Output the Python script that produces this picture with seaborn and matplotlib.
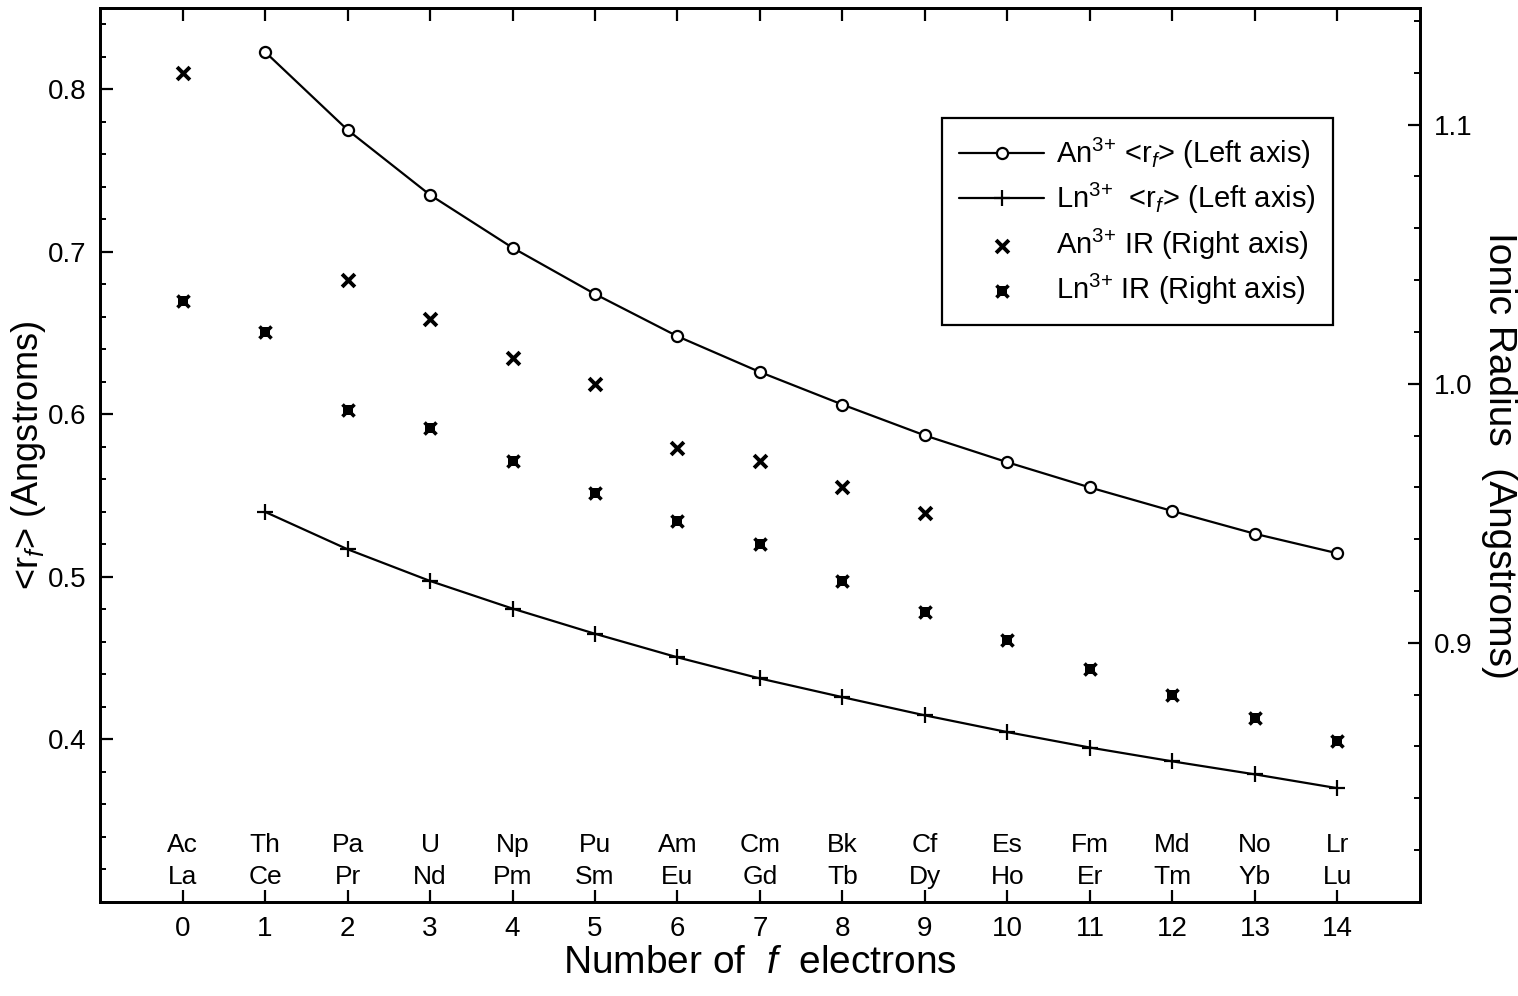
import numpy as np
import pandas as pd
import matplotlib
matplotlib.use("Agg")
import matplotlib.pyplot as plt
import matplotlib.transforms as mtransforms
from matplotlib.ticker import MultipleLocator
from matplotlib.legend_handler import HandlerTuple
import seaborn as sns

# ---- data ----
n_f = list(range(15))
actinides = ["Ac", "Th", "Pa", "U", "Np", "Pu", "Am", "Cm", "Bk", "Cf", "Es", "Fm", "Md", "No", "Lr"]
lanthanides = ["La", "Ce", "Pr", "Nd", "Pm", "Sm", "Eu", "Gd", "Tb", "Dy", "Ho", "Er", "Tm", "Yb", "Lu"]

rf_x = list(range(1, 15))
an_rf = [0.823, 0.775, 0.735, 0.7025, 0.674, 0.648, 0.626, 0.606, 0.587, 0.5705, 0.555, 0.5405, 0.5265, 0.5145]
ln_rf = [0.540, 0.517, 0.4975, 0.4805, 0.465, 0.4505, 0.4375, 0.426, 0.4148, 0.4045, 0.395, 0.3865, 0.3785, 0.370]

an_ir_x = [0, 2, 3, 4, 5, 6, 7, 8, 9]
an_ir = [1.120, 1.040, 1.025, 1.010, 1.000, 0.975, 0.970, 0.960, 0.950]
ln_ir_x = list(range(15))
ln_ir = [1.032, 1.020, 0.990, 0.983, 0.970, 0.958, 0.947, 0.938, 0.924, 0.912, 0.901, 0.890, 0.880, 0.871, 0.862]

labels = ["An$^{3{+}}$ <r$_f$> (Left axis)", "Ln$^{3{+}}$  <r$_f$> (Left axis)",
          "An$^{3{+}}$ IR (Right axis)", "Ln$^{3{+}}$ IR (Right axis)"]

# ---- style ----
sns.set_theme(style="ticks")
plt.rcParams["font.family"] = ["Liberation Sans", "DejaVu Sans"]
plt.rcParams["mathtext.fontset"] = "custom"
plt.rcParams["mathtext.rm"] = "Liberation Sans"
plt.rcParams["mathtext.it"] = "Liberation Sans:italic"
plt.rcParams["axes.linewidth"] = 2.0
for k in ["text.color", "axes.labelcolor", "xtick.color", "ytick.color", "axes.edgecolor"]:
    plt.rcParams[k] = "black"

fig = plt.figure(figsize=(15.18, 9.96), dpi=100)
ax = fig.add_axes([0.0659, 0.0944, 0.8695, 0.8976])
ax2 = ax.twinx()

sns.lineplot(x=rf_x, y=an_rf, ax=ax, color="black", linewidth=1.6, marker="o",
             markersize=8, markerfacecolor="white", markeredgecolor="black",
             markeredgewidth=1.6, label=labels[0])
sns.lineplot(x=rf_x, y=ln_rf, ax=ax, color="black", linewidth=1.6, marker="+",
             markersize=11, markeredgecolor="black", markeredgewidth=1.6, label=labels[1])
sns.scatterplot(x=an_ir_x, y=an_ir, ax=ax2, marker="x", s=85, color="black",
                linewidth=2.8, label=labels[2])
# Ln IR marker: small filled square overlaid with a bold x
sns.scatterplot(x=ln_ir_x, y=ln_ir, ax=ax2, marker="s", s=45, color="black",
                linewidth=0, label="_sq")
sns.scatterplot(x=ln_ir_x, y=ln_ir, ax=ax2, marker="x", s=75, color="black",
                linewidth=2.6, label="_x")

ax.set_xlim(-1, 15)
ax.set_ylim(0.30, 0.85)
ax2.set_ylim(0.80, 1.145)

ax.set_xticks(n_f)
ax.set_yticks([0.4, 0.5, 0.6, 0.7, 0.8])
ax.yaxis.set_minor_locator(MultipleLocator(0.02))
ax2.set_yticks([0.9, 1.0, 1.1])
ax2.yaxis.set_minor_locator(MultipleLocator(0.02))

ax.tick_params(axis="both", which="major", direction="in", length=9, width=1.6,
               labelsize=20, pad=10, top=True, colors="black")
ax.tick_params(axis="y", which="minor", direction="in", length=4.5, width=1.4)
ax2.tick_params(axis="y", which="major", direction="in", length=9, width=1.6,
                labelsize=20, pad=10, colors="black")
ax2.tick_params(axis="y", which="minor", direction="in", length=4.5, width=1.4)

ax.set_xlabel("Number of  $f$  electrons", fontsize=28, labelpad=2)
ax.set_ylabel("<r$_f$> (Angstroms)", fontsize=26, labelpad=0)
ax2.set_ylabel("Ionic Radius  (Angstroms)", fontsize=28, rotation=270, labelpad=32)

for sp in list(ax.spines.values()) + list(ax2.spines.values()):
    sp.set_linewidth(2.0)
    sp.set_color("black")

trans = mtransforms.blended_transform_factory(ax.transData, ax.transAxes)
for i, (a, l) in enumerate(zip(actinides, lanthanides)):
    ax.text(n_f[i], 0.0638, a, transform=trans, ha="center", va="center", fontsize=19)
    ax.text(n_f[i], 0.028, l, transform=trans, ha="center", va="center", fontsize=19)

h1, l1 = ax.get_legend_handles_labels()
for lg in (ax.get_legend(), ax2.get_legend()):
    if lg:
        lg.remove()
colls = ax2.collections
handles = h1 + [colls[0], (colls[1], colls[2])]
leg = ax2.legend(handles, labels, loc="upper right", bbox_to_anchor=(0.945, 0.893),
                 fontsize=21, frameon=True, fancybox=False, edgecolor="black",
                 framealpha=1, handlelength=2.9, numpoints=1, scatterpoints=1,
                 labelspacing=0.35, borderpad=0.6, handletextpad=0.4,
                 handler_map={tuple: HandlerTuple(ndivide=1)})
leg.get_frame().set_linewidth(1.6)

fig.savefig("out.png", dpi=100, facecolor="white")
